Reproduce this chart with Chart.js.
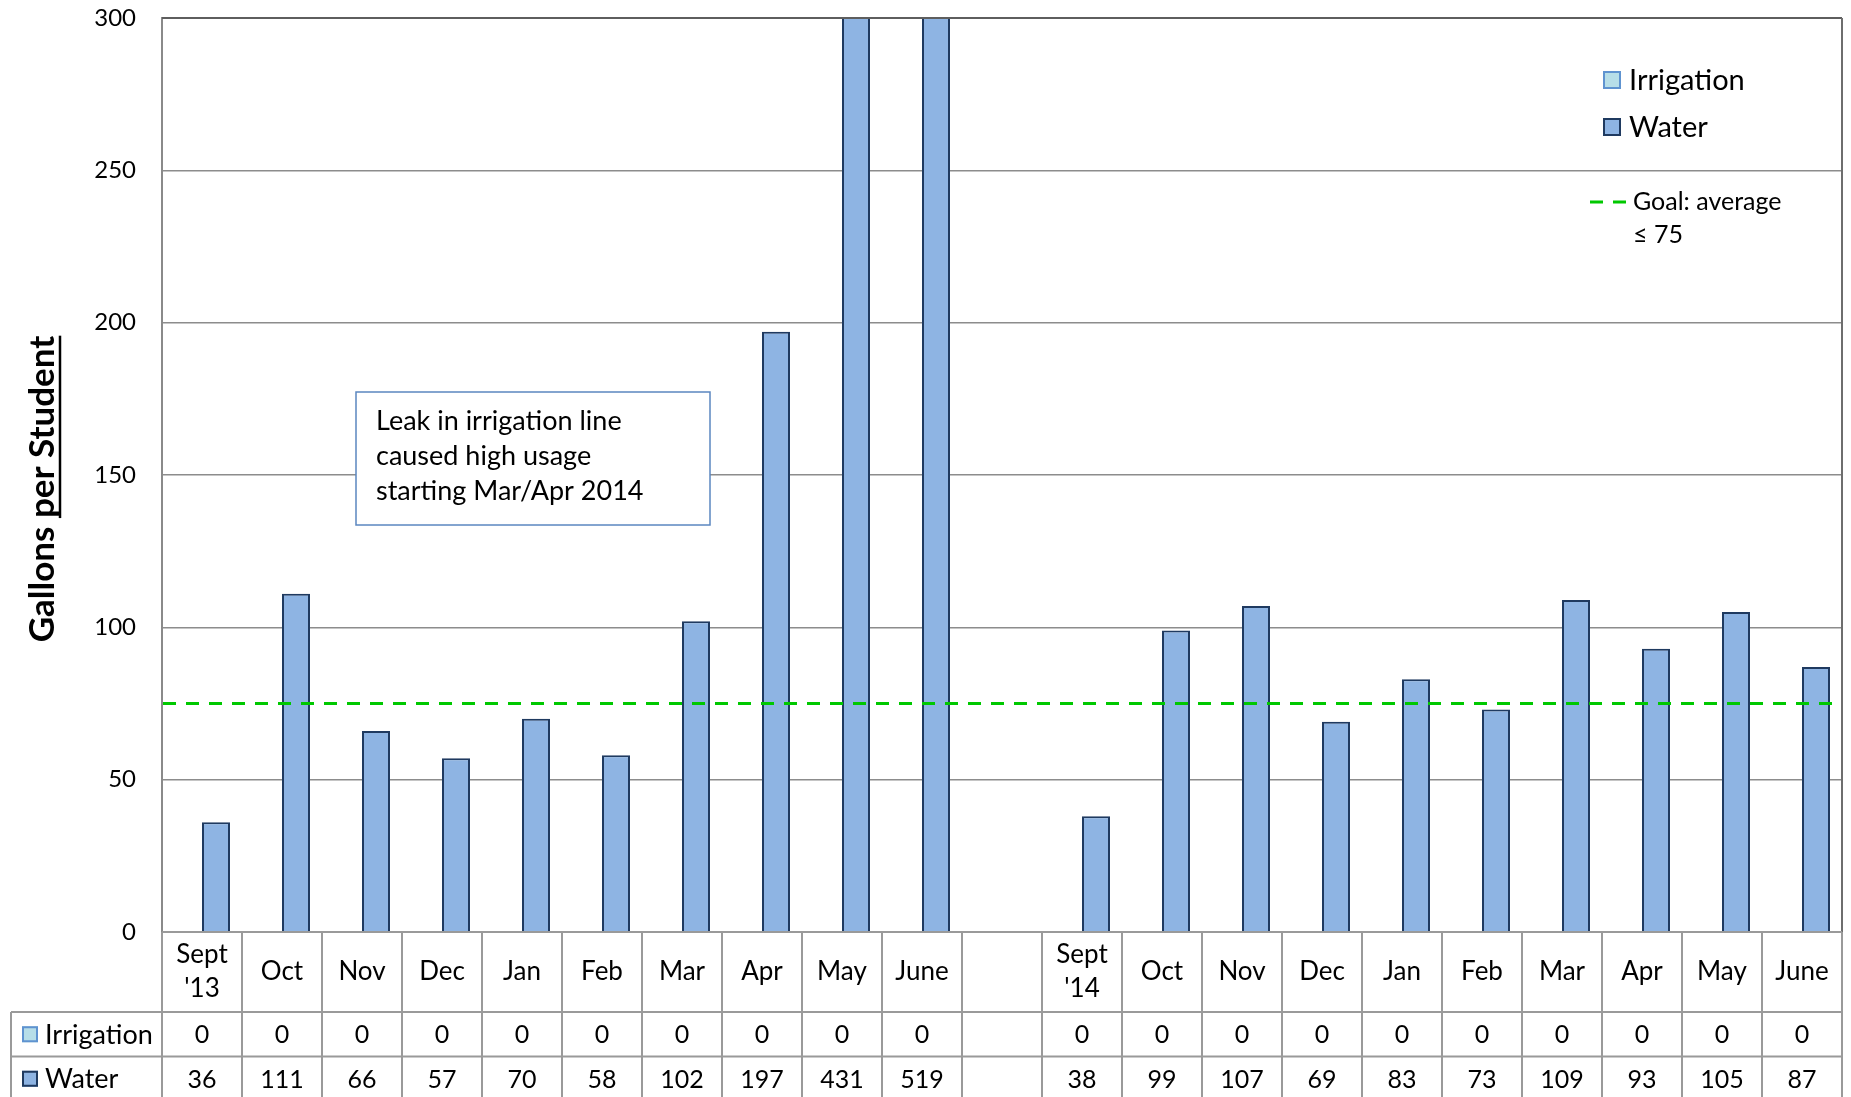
<!DOCTYPE html>
<html>
<head>
<meta charset="utf-8">
<script src="https://cdn.jsdelivr.net/npm/chart.js@4.4.1/dist/chart.umd.min.js"></script>
<style>
html,body{margin:0;padding:0;background:#ffffff;overflow:hidden}
#wrap{position:relative;width:1851px;height:1097px}
</style>
</head>
<body>
<div id="wrap"><canvas id="c"></canvas></div>
<script>
// ---- data ----
const categories = [["Sept","'13"],"Oct","Nov","Dec","Jan","Feb","Mar","Apr","May","June","",["Sept","'14"],"Oct","Nov","Dec","Jan","Feb","Mar","Apr","May","June"];
const irrigation = [0,0,0,0,0,0,0,0,0,0,null,0,0,0,0,0,0,0,0,0,0];
const water = [36,111,66,57,70,58,102,197,431,519,null,38,99,107,69,83,73,109,93,105,87];
const seriesNames = ["Irrigation","Water"];
const yTicks = [0,50,100,150,200,250,300];
const goalValue = 75;
const goalLabel = ["Goal: average","\u2264 75"];
const yTitleStart = "Gallons ";
const yTitleUnderlined = "per Student";
const noteLines = ["Leak in irrigation line","caused high usage","starting Mar/Apr 2014"];

// ---- styles ----
const FONT = "Lato, 'Open Sans', sans-serif";
const GRID = '#8c8c8c';
const TABLE_LINE = '#9a9a9a';

const overlay = {
  id: 'overlay',
  afterDatasetsDraw(chart) {
    const ctx = chart.ctx;
    const ca = chart.chartArea;
    const xs = chart.scales.x, ys = chart.scales.y;
    ctx.save();

    // goal line
    const gy = ys.getPixelForValue(goalValue);
    ctx.strokeStyle = '#00c800';
    ctx.lineWidth = 3;
    ctx.setLineDash([13,10]);
    ctx.beginPath(); ctx.moveTo(ca.left + 1, gy); ctx.lineTo(ca.right, gy); ctx.stroke();
    ctx.setLineDash([]);

    // plot border top/right
    ctx.strokeStyle = '#5e5e5e';
    ctx.lineWidth = 2;
    ctx.beginPath(); ctx.moveTo(ca.left, ca.top); ctx.lineTo(ca.right, ca.top); ctx.stroke();
    ctx.strokeStyle = '#6e6e6e';
    ctx.beginPath(); ctx.moveTo(ca.right, ca.top); ctx.lineTo(ca.right, ca.bottom); ctx.stroke();

    // annotation box
    const bx = ca.left + 194, by = ca.top + 374, bw = 354, bh = 133;
    ctx.fillStyle = '#ffffff';
    ctx.fillRect(bx, by, bw, bh);
    ctx.strokeStyle = '#5b87c0';
    ctx.lineWidth = 1.5;
    ctx.strokeRect(bx, by, bw, bh);
    ctx.fillStyle = '#000';
    ctx.font = '27px ' + FONT;
    ctx.textAlign = 'left';
    ctx.textBaseline = 'alphabetic';
    noteLines.forEach((t, i) => ctx.fillText(t, bx + 20, by + 38 + i * 35));

    // legend
    const ds = chart.data.datasets;
    const lx = ca.right - 239;
    const ly = [ca.top + 62, ca.top + 109];
    ctx.font = '29px ' + FONT;
    ctx.textBaseline = 'middle';
    ds.forEach((d, i) => {
      ctx.fillStyle = d.backgroundColor;
      ctx.fillRect(lx, ly[i] - 9, 18, 18);
      ctx.strokeStyle = d.borderColor;
      ctx.lineWidth = 2;
      ctx.strokeRect(lx + 1, ly[i] - 8, 16, 16);
      ctx.fillStyle = '#000';
      ctx.fillText(d.label, lx + 26, ly[i] + 1);
    });
    const gly = ca.top + 184;
    ctx.strokeStyle = '#00c800';
    ctx.lineWidth = 3;
    ctx.setLineDash([13,10]);
    ctx.beginPath(); ctx.moveTo(ca.right - 252, gly); ctx.lineTo(ca.right - 215, gly); ctx.stroke();
    ctx.setLineDash([]);
    ctx.font = '25px ' + FONT;
    ctx.fillStyle = '#000';
    goalLabel.forEach((t, i) => ctx.fillText(t, ca.right - 209, gly + i * 33));

    // data table
    const n = categories.length;
    const half = (xs.getPixelForValue(1) - xs.getPixelForValue(0)) / 2;
    const y0 = ca.bottom, y1 = y0 + 80, y2 = y1 + 44.5, y3 = y2 + 44.5;
    const tLeft = 11;
    ctx.strokeStyle = TABLE_LINE;
    ctx.lineWidth = 2;
    ctx.beginPath();
    ctx.moveTo(ca.left, y0); ctx.lineTo(ca.right, y0);
    ctx.moveTo(tLeft, y1); ctx.lineTo(ca.right, y1);
    ctx.moveTo(tLeft, y2); ctx.lineTo(ca.right, y2);
    ctx.moveTo(tLeft, y3); ctx.lineTo(ca.right, y3);
    ctx.moveTo(tLeft, y1); ctx.lineTo(tLeft, y3);
    for (let i = 0; i < n; i++) {
      const xl = xs.getPixelForValue(i) - half;
      ctx.moveTo(xl, y0); ctx.lineTo(xl, y3);
    }
    ctx.moveTo(ca.right, y0); ctx.lineTo(ca.right, y3);
    ctx.stroke();

    ctx.fillStyle = '#000';
    ctx.font = '26px ' + FONT;
    ctx.textAlign = 'center';
    ctx.textBaseline = 'middle';
    categories.forEach((c, i) => {
      const cx = xs.getPixelForValue(i);
      const cy = (y0 + y1) / 2;
      if (Array.isArray(c)) {
        ctx.fillText(c[0], cx, cy - 17);
        ctx.fillText(c[1], cx, cy + 17);
      } else if (c) {
        ctx.fillText(c, cx, cy);
      }
    });
    const rows = [[y1, y2], [y2, y3]];
    ds.forEach((d, r) => {
      const cy = (rows[r][0] + rows[r][1]) / 2;
      ctx.font = '25px ' + FONT;
      d.data.forEach((v, i) => {
        if (v === null || v === undefined) return;
        ctx.fillText(String(v), xs.getPixelForValue(i), cy + 1);
      });
      ctx.fillStyle = d.backgroundColor;
      ctx.fillRect(22, cy - 8, 16, 16);
      ctx.strokeStyle = d.borderColor;
      ctx.lineWidth = 2;
      ctx.strokeRect(23, cy - 7, 14, 14);
      ctx.fillStyle = '#000';
      ctx.textAlign = 'left';
      ctx.font = '27px ' + FONT;
      ctx.fillText(d.label, 45, cy + 1);
      ctx.textAlign = 'center';
    });

    // y axis title with underline
    ctx.save();
    ctx.translate(54, 489);
    ctx.rotate(-Math.PI / 2);
    ctx.font = 'bold 35px ' + FONT;
    ctx.textAlign = 'left';
    ctx.textBaseline = 'alphabetic';
    const w1 = ctx.measureText(yTitleStart).width;
    const w2 = ctx.measureText(yTitleUnderlined).width;
    const sx = -(w1 + w2) / 2;
    ctx.fillStyle = '#000';
    ctx.fillText(yTitleStart, sx, 0);
    ctx.fillText(yTitleUnderlined, sx + w1, 0);
    ctx.strokeStyle = '#000';
    ctx.lineWidth = 2.5;
    ctx.beginPath(); ctx.moveTo(sx + w1, 6); ctx.lineTo(sx + w1 + w2, 6); ctx.stroke();
    ctx.restore();

    ctx.restore();
  }
};

new Chart(document.getElementById('c'), {
  type: 'bar',
  data: {
    labels: categories,
    datasets: [
      { label: seriesNames[0], data: irrigation, backgroundColor: '#b7dee8', borderColor: '#5f93d0', borderWidth: 2, clip: 0 },
      { label: seriesNames[1], data: water, backgroundColor: '#8eb4e3', borderColor: '#1f3a60', borderWidth: 2, clip: 0 }
    ]
  },
  options: {
    responsive: true,
    maintainAspectRatio: false,
    animation: false,
    devicePixelRatio: 1,
    layout: { padding: { top: 18, right: 9, bottom: 165, left: 0 } },
    datasets: { bar: { categoryPercentage: 0.7, barPercentage: 1.0 } },
    plugins: { legend: { display: false }, tooltip: { enabled: false } },
    scales: {
      x: { display: false, offset: true },
      y: {
        min: yTicks[0], max: yTicks[yTicks.length - 1],
        afterBuildTicks(scale) { scale.ticks = yTicks.map(v => ({ value: v })); },
        afterFit(scale) { scale.width = 162; scale.paddingTop = 0; scale.paddingBottom = 0; },
        ticks: { color: '#000', padding: 26, font: { family: FONT, size: 24 } },
        grid: { color: GRID, lineWidth: 1.5, drawTicks: false },
        border: { display: true, color: '#8a8a8a', width: 2 }
      }
    }
  },
  plugins: [overlay]
});
</script>
</body>
</html>
